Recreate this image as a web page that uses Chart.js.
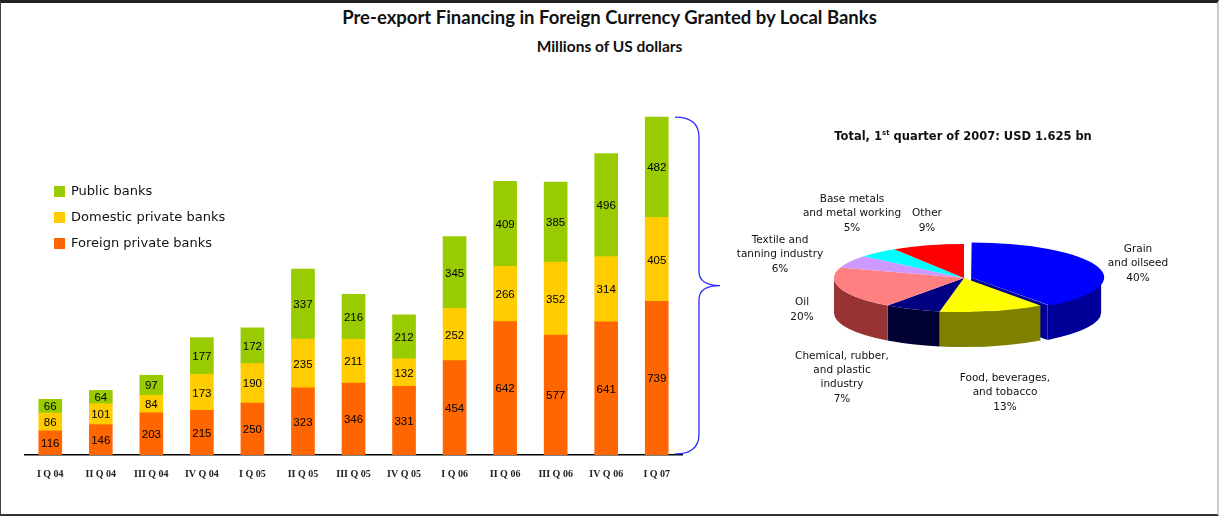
<!DOCTYPE html>
<html>
<head>
<meta charset="utf-8">
<script src="https://cdn.jsdelivr.net/npm/chart.js@4"></script>
<style>
  html, body { margin: 0; padding: 0; background: #fff; }
  #page { position: relative; width: 1219px; height: 516px; overflow: hidden; }
  #frame { position: absolute; left: 0; top: 0; width: 1216px; height: 511px;
           border-top: 3px solid #222; border-left: 1px solid #444; border-bottom: 2px solid #333; border-right: 2px solid #ccc; }
  .title { position: absolute; left: 0; width: 1219px; text-align: center; font-family: Lato, sans-serif; font-weight: bold; color: #111; }
  #t1 { top: 6px; font-size: 18.5px; }
  #t2 { top: 37px; font-size: 15.5px; }
  #pieTitle { position: absolute; left: 763px; width: 400px; top: 129px; text-align: center;
              font-family: "DejaVu Sans", sans-serif; font-weight: bold; font-size: 11.5px; color: #111; }
  #pieTitle sup { font-size: 7px; }
  canvas { position: absolute; }
  #bars { left: 0; top: 0; }
  #pie { left: 720px; top: 100px; }
</style>
</head>
<body>
<div id="page">
  <div id="frame"></div>
  <div class="title" id="t1">Pre-export Financing in Foreign Currency Granted by Local Banks</div>
  <div class="title" id="t2">Millions of US dollars</div>
  <canvas id="bars" width="730" height="516"></canvas>
  <canvas id="pie" width="499" height="410"></canvas>
  <div id="pieTitle">Total, 1<sup>st</sup> quarter of 2007: USD 1.625 bn</div>
</div>
<script>
// quarters and amounts (US$ millions)
const quarters = ["I Q 04", "II Q 04", "III Q 04", "IV Q 04", "I Q 05", "II Q 05", "III Q 05",
                  "IV Q 05", "I Q 06", "II Q 06", "III Q 06", "IV Q 06", "I Q 07"];
const foreignBanks = [116, 146, 203, 215, 250, 323, 346, 331, 454, 642, 577, 641, 739];
const domesticBanks = [86, 101, 84, 173, 190, 235, 211, 132, 252, 266, 352, 314, 405];
const publicBanks = [66, 64, 97, 177, 172, 337, 216, 212, 345, 409, 385, 496, 482];

// breakdown by sector, 1st quarter 2007 (%)
const sectors = [
    ["Grain", "and oilseed"],
    ["Food, beverages,", "and tobacco"],
    ["Chemical, rubber,", "and plastic", "industry"],
    ["Oil"],
    ["Textile and", "tanning industry"],
    ["Base metals", "and metal working"],
    ["Other"]
];
const sectorShares = [40, 13, 7, 20, 6, 5, 9];

const topColors = ["#0000ff", "#ffff00", "#000080", "#ff8080", "#cc99ff", "#00ffff", "#ff0000"];
const sideColors = ["#000099", "#808000", "#000033", "#993333", "#806099", "#009999", "#990000"];
// where each sector label sits (page px, centre of first line)
const labelSpots = [[1138, 249], [1005, 378], [842, 356], [802, 302], [780, 240], [852, 199], [927, 213]];

// --- bar chart ---
const segmentLabels = {
    id: "segmentLabels",
    afterDatasetsDraw(chart) {
        const ctx = chart.ctx;
        ctx.save();
        ctx.font = "11.5px 'Liberation Sans', Arial, sans-serif";
        ctx.fillStyle = "#000";
        ctx.textAlign = "center";
        ctx.textBaseline = "middle";
        chart.data.datasets.forEach((ds, i) => {
            chart.getDatasetMeta(i).data.forEach((bar, j) => {
                ctx.fillText(ds.data[j], bar.x, (bar.y + bar.base) / 2 + 1);
            });
        });
        ctx.restore();
    }
};

const sideLegend = {
    id: "sideLegend",
    afterDraw(chart) {
        const ctx = chart.ctx;
        ctx.save();
        ctx.font = "13px 'DejaVu Sans', Verdana, sans-serif";
        ctx.textBaseline = "middle";
        const items = chart.data.datasets.slice().reverse();
        items.forEach((ds, i) => {
            const y = 192 + i * 26;
            ctx.fillStyle = ds.backgroundColor;
            ctx.fillRect(54, y - 6, 11, 11);
            ctx.fillStyle = "#111";
            ctx.fillText(ds.label, 71, y);
        });
        ctx.restore();
    }
};

const brace = {
    id: "brace",
    afterDraw(chart) {
        const ctx = chart.ctx;
        const y = chart.scales.y;
        const last = quarters.length - 1;
        const top = y.getPixelForValue(foreignBanks[last] + domesticBanks[last] + publicBanks[last]);
        const bot = y.getPixelForValue(0) - 1;
        const mid = (top + bot) / 2;
        const x0 = chart.chartArea.right - 7, x1 = x0 + 24, x2 = x0 + 45;
        ctx.save();
        ctx.strokeStyle = "#2b2bff";
        ctx.lineWidth = 1.3;
        ctx.beginPath();
        ctx.moveTo(x0, top);
        ctx.quadraticCurveTo(x1, top, x1, top + 20);
        ctx.lineTo(x1, mid - 14);
        ctx.quadraticCurveTo(x1, mid, x2, mid);
        ctx.quadraticCurveTo(x1, mid, x1, mid + 14);
        ctx.lineTo(x1, bot - 20);
        ctx.quadraticCurveTo(x1, bot, x0, bot);
        ctx.stroke();
        ctx.restore();
    }
};

new Chart(document.getElementById("bars"), {
    type: "bar",
    data: {
        labels: quarters,
        datasets: [
            { label: "Foreign private banks", data: foreignBanks, backgroundColor: "#ff6600" },
            { label: "Domestic private banks", data: domesticBanks, backgroundColor: "#ffcc00" },
            { label: "Public banks", data: publicBanks, backgroundColor: "#99cc00" }
        ]
    },
    options: {
        responsive: false,
        animation: false,
        events: [],
        layout: { padding: { left: 25, right: 48, top: 81, bottom: 21 } },
        datasets: { bar: { barThickness: 23 } },
        plugins: { legend: { display: false }, tooltip: { enabled: false } },
        scales: {
            x: {
                stacked: true,
                grid: { display: false },
                border: { display: true, color: "#000", width: 1.5 },
                ticks: {
                    autoSkip: false, maxRotation: 0, padding: 5, color: "#222",
                    font: { family: "'Liberation Serif', 'Times New Roman', serif", weight: "bold", size: 10 }
                },
                afterFit(scale) { scale.height = 40; }
            },
            y: { stacked: true, display: false, min: 0, max: 1800 }
        }
    },
    plugins: [segmentLabels, sideLegend, brace]
});

// --- tilted pie ---
const squash = 0.2615;
const depth = 35;
const pieCentre = [244, 178];

function frontRanges(a, b) {
    const out = [];
    for (let n = -1; n <= 1; n++) {
        const lo = Math.max(a, n * 2 * Math.PI), hi = Math.min(b, n * 2 * Math.PI + Math.PI);
        if (hi > lo) out.push([lo, hi]);
    }
    return out;
}

const tilt = {
    id: "tilt",
    beforeDatasetsDraw(chart) {
        const ctx = chart.ctx;
        const arcs = chart.getDatasetMeta(0).data;
        const cx = arcs[0].x, cy = arcs[0].y;
        const D = depth / squash;
        ctx.save();
        ctx.translate(pieCentre[0], pieCentre[1]);
        ctx.scale(1, squash);
        ctx.translate(-cx, -cy);
        // cut faces of pulled-out slices
        arcs.forEach((arc, i) => {
            const o = (arc.options.offset || 0) / 4;
            if (!o) return;
            const m = (arc.startAngle + arc.endAngle) / 2;
            const x = arc.x + Math.cos(m) * o, y = arc.y + Math.sin(m) * o, r = arc.outerRadius;
            [[arc.endAngle, Math.sin(arc.endAngle + Math.PI / 2)], [arc.startAngle, Math.sin(arc.startAngle - Math.PI / 2)]]
                .forEach(([a, facing]) => {
                    if (facing <= 0) return;
                    ctx.beginPath();
                    ctx.moveTo(x, y);
                    ctx.lineTo(x + Math.cos(a) * r, y + Math.sin(a) * r);
                    ctx.lineTo(x + Math.cos(a) * r, y + Math.sin(a) * r + D);
                    ctx.lineTo(x, y + D);
                    ctx.closePath();
                    ctx.fillStyle = sideColors[i];
                    ctx.fill();
                });
        });
        // outer walls
        arcs.forEach((arc, i) => {
            const o = (arc.options.offset || 0) / 4;
            const m = (arc.startAngle + arc.endAngle) / 2;
            const x = arc.x + Math.cos(m) * o, y = arc.y + Math.sin(m) * o, r = arc.outerRadius;
            frontRanges(arc.startAngle, arc.endAngle).forEach(([a, b]) => {
                ctx.beginPath();
                ctx.arc(x, y, r, a, b);
                ctx.arc(x, y + D, r, b, a, true);
                ctx.closePath();
                ctx.fillStyle = sideColors[i];
                ctx.fill();
            });
        });
    },
    afterDatasetsDraw(chart) {
        chart.ctx.restore();
    },
    afterDraw(chart) {
        const ctx = chart.ctx;
        ctx.save();
        ctx.font = "10.5px 'DejaVu Sans', Verdana, sans-serif";
        ctx.fillStyle = "#111";
        ctx.textAlign = "center";
        ctx.textBaseline = "middle";
        sectors.forEach((lines, i) => {
            const x = labelSpots[i][0] - 720;
            let y = labelSpots[i][1] - 100;
            lines.forEach(t => { ctx.fillText(t, x, y); y += 14; });
            ctx.fillText(sectorShares[i] + "%", x, y + 1.5);
        });
        ctx.restore();
    }
};

new Chart(document.getElementById("pie"), {
    type: "pie",
    data: {
        labels: sectors.map(s => s.join(" ")),
        datasets: [{
            data: sectorShares,
            backgroundColor: topColors,
            borderWidth: 0,
            offset: [30, 0, 0, 0, 0, 0, 0],
            clip: false
        }]
    },
    options: {
        responsive: false,
        animation: false,
        events: [],
        radius: 130,
        plugins: { legend: { display: false }, tooltip: { enabled: false } }
    },
    plugins: [tilt]
});
</script>
</body>
</html>
